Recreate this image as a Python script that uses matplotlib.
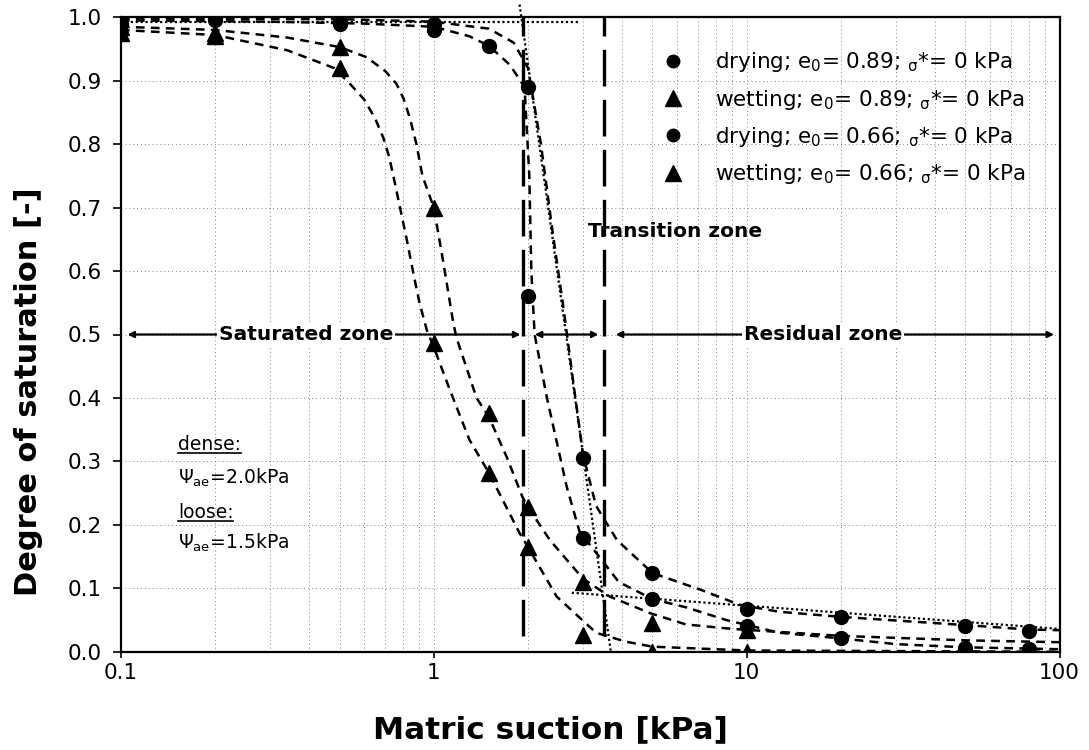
#!/usr/bin/env python3
"""
Soil-water retention curves (drying / wetting) for dense and loose sand,
with the saturated, transition and residual zones marked.
"""

import matplotlib
matplotlib.use("Agg")
import matplotlib.pyplot as plt
from matplotlib.lines import Line2D

plt.rcParams['font.family'] = ['DejaVu Sans']
plt.rcParams['mathtext.default'] = 'regular'

# --- measured points (matric suction kPa, degree of saturation) ---
suction_dry_089 = [0.1, 0.2, 0.5, 1, 1.5, 2, 3, 5, 10, 20, 50, 80]
sat_dry_089 = [0.99, 0.995, 0.99, 0.98, 0.955, 0.56, 0.18, 0.083, 0.04, 0.022, 0.006, 0.005]

suction_wet_089 = [0.1, 0.2, 0.5, 1, 1.5, 2, 3, 5, 10]
sat_wet_089 = [0.975, 0.97, 0.92, 0.487, 0.282, 0.165, 0.027, 0.0, 0.0]

suction_dry_066 = [0.1, 0.2, 0.5, 1, 2, 3, 5, 10, 20, 50, 80]
sat_dry_066 = [0.998, 1.0, 0.993, 0.99, 0.89, 0.305, 0.124, 0.068, 0.055, 0.041, 0.032]

suction_wet_066 = [0.1, 0.2, 0.5, 1, 1.5, 2, 3, 5, 10]
sat_wet_066 = [0.985, 0.975, 0.953, 0.70, 0.376, 0.228, 0.11, 0.045, 0.035]

# --- fitted curves ---
fit_dry_089_x = [0.1, 0.3, 0.6, 1.0, 1.3, 1.5, 1.75, 1.95, 2.02, 2.05, 2.1, 2.3, 2.66,
                 2.92, 3.5, 3.9, 5, 6.4, 8.6, 12.7, 20, 30, 50, 100]
fit_dry_089_y = [0.995, 0.993, 0.99, 0.985, 0.97, 0.955, 0.925, 0.89, 0.75, 0.6, 0.5, 0.4,
                 0.26, 0.19, 0.14, 0.11, 0.083, 0.07, 0.05, 0.03, 0.021, 0.012, 0.007, 0.004]

fit_wet_089_x = [0.1, 0.2, 0.34, 0.48, 0.54, 0.60, 0.65, 0.69, 0.72, 0.75, 0.78, 0.82, 0.86,
                 0.90, 0.95, 1.0, 1.125, 1.3, 1.5, 1.88, 2.0, 2.47, 3.3, 4.1, 5, 10, 100]
fit_wet_089_y = [0.98, 0.972, 0.948, 0.92, 0.895, 0.87, 0.84, 0.81, 0.78, 0.74, 0.70, 0.649,
                 0.597, 0.55, 0.507, 0.48, 0.413, 0.334, 0.282, 0.187, 0.165, 0.087, 0.03,
                 0.016, 0.008, 0.002, 0.0]

fit_dry_066_x = [0.1, 0.5, 1.0, 1.5, 1.8, 2.0, 2.2, 2.4, 2.6, 2.8, 3.0, 3.3, 3.85, 5, 7.1,
                 9.5, 12.7, 20, 50, 80, 100]
fit_dry_066_y = [0.998, 0.997, 0.993, 0.982, 0.96, 0.92, 0.80, 0.66, 0.54, 0.42, 0.31, 0.23,
                 0.176, 0.124, 0.098, 0.074, 0.063, 0.055, 0.042, 0.035, 0.034]

fit_wet_066_x = [0.1, 0.2, 0.34, 0.5, 0.61, 0.70, 0.76, 0.80, 0.84, 0.88, 0.92, 1.0, 1.07,
                 1.15, 1.18, 1.37, 1.5, 1.71, 1.92, 2.0, 2.35, 3.0, 3.65, 4.9, 6.4, 9, 20,
                 50, 100]
fit_wet_066_y = [0.985, 0.98, 0.968, 0.953, 0.937, 0.915, 0.895, 0.872, 0.84, 0.80, 0.75,
                 0.70, 0.617, 0.523, 0.496, 0.40, 0.37, 0.307, 0.244, 0.228, 0.176, 0.115,
                 0.087, 0.061, 0.043, 0.036, 0.025, 0.018, 0.015]

# --- bilinear construction lines ---
sat_line_x = [0.1, 2.9]
sat_line_y = [0.993, 0.993]
tangent_x = [1.88, 3.68]
tangent_y = [1.02, 0.0]
resid_line_x = [2.76, 100]
resid_line_y = [0.093, 0.036]

# zone boundaries (kPa)
aev_boundary = 1.93
res_boundary = 3.5

legend_labels = [
    r'drying; e$_0$= 0.89; $_\sigma$*= 0 kPa',
    r'wetting; e$_0$= 0.89; $_\sigma$*= 0 kPa',
    r'drying; e$_0$= 0.66; $_\sigma$*= 0 kPa',
    r'wetting; e$_0$= 0.66; $_\sigma$*= 0 kPa',
]


def zone_arrow(ax, x0, x1, y):
    ax.annotate('', xy=(x1, y), xytext=(x0, y),
                arrowprops=dict(arrowstyle='<|-|>', color='black', lw=1.6,
                                mutation_scale=9, shrinkA=0, shrinkB=0))


def main():
    fig = plt.figure(figsize=(10.89, 7.5), dpi=100)
    ax = fig.add_axes([0.111, 0.131, 0.862, 0.846])

    dash = (0, (3.5, 2.5))
    fit_kw = dict(color='black', lw=1.8, linestyle=dash, zorder=3)
    ax.plot(fit_dry_089_x, fit_dry_089_y, **fit_kw)
    ax.plot(fit_wet_089_x, fit_wet_089_y, **fit_kw)
    ax.plot(fit_dry_066_x, fit_dry_066_y, **fit_kw)
    ax.plot(fit_wet_066_x, fit_wet_066_y, **fit_kw)

    # construction lines
    dot_kw = dict(color='black', lw=1.6, linestyle=(0, (1, 1.2)), zorder=3)
    ax.plot(sat_line_x, sat_line_y, **dot_kw)
    ax.plot(tangent_x, tangent_y, clip_on=False, **dot_kw)
    ax.plot(resid_line_x, resid_line_y, **dot_kw)

    # zone boundaries
    for xb in (aev_boundary, res_boundary):
        ax.plot([xb, xb], [0.025, 1.0], color='black', lw=2.4,
                linestyle=(0, (11, 4)), zorder=3)

    # markers
    mk = dict(color='black', linestyle='none', zorder=5)
    ax.plot(suction_dry_089, sat_dry_089, marker='o', ms=10, **mk)
    ax.plot(suction_wet_089, sat_wet_089, marker='^', ms=12, **mk)
    ax.plot(suction_dry_066, sat_dry_066, marker='o', ms=10, **mk)
    ax.plot(suction_wet_066, sat_wet_066, marker='^', ms=12, **mk)

    # zones
    zone_arrow(ax, 0.105, aev_boundary * 0.98, 0.5)
    zone_arrow(ax, aev_boundary * 1.09, res_boundary * 0.96, 0.5)
    zone_arrow(ax, res_boundary * 1.09, 96, 0.5)
    box = dict(facecolor='white', edgecolor='none', pad=1.5)
    ax.text(0.39, 0.5, 'Saturated zone', ha='center', va='center',
            fontsize=14.5, fontweight='bold', bbox=box, zorder=6)
    ax.text(17.5, 0.5, 'Residual zone', ha='center', va='center',
            fontsize=14.5, fontweight='bold', bbox=box, zorder=6)
    ax.text(5.9, 0.662, 'Transition zone', ha='center', va='center',
            fontsize=14.5, fontweight='bold', zorder=6)

    # air-entry notes
    notes = [('dense:', 0.326, True), (r'$\Psi_{ae}$=2.0kPa', 0.274, False),
             ('loose:', 0.219, True), (r'$\Psi_{ae}$=1.5kPa', 0.172, False)]
    underline = []
    for txt, yy, ul in notes:
        t = ax.text(0.152, yy, txt, ha='left', va='center', fontsize=13.5)
        if ul:
            underline.append(t)

    # legend
    handles = [Line2D([], [], color='black', marker=m, linestyle='none', ms=s)
               for m, s in (('o', 9), ('^', 11), ('o', 9), ('^', 11))]
    ax.legend(handles, legend_labels, loc='upper left', bbox_to_anchor=(0.547, 0.975),
              frameon=False, fontsize=15.5, handletextpad=0.95, labelspacing=0.62,
              borderpad=0.3)

    # axes
    ax.set_xscale('log')
    ax.set_xlim(0.1, 100)
    ax.set_ylim(0.0, 1.0)
    ax.set_yticks([i / 10 for i in range(11)])
    ax.set_yticklabels([f'{i / 10:.1f}' for i in range(11)])
    ax.set_xticks([0.1, 1, 10, 100])
    ax.set_xticklabels(['0.1', '1', '10', '100'])
    ax.tick_params(axis='both', which='major', labelsize=15.5, width=1.2,
                   direction='out')
    ax.tick_params(axis='y', which='major', length=6, pad=8)
    ax.tick_params(axis='x', which='major', length=4, pad=4)
    ax.tick_params(axis='x', which='minor', length=0)
    ax.grid(True, which='both', color='0.5', lw=0.7, linestyle=(0, (1, 3)))
    for s in ax.spines.values():
        s.set_linewidth(1.6)
    ax.set_xlabel('Matric suction [kPa]', fontsize=22.5, fontweight='bold')
    ax.set_ylabel('Degree of saturation [-]', fontsize=22, fontweight='bold')
    ax.xaxis.set_label_coords(0.458, -0.1)
    ax.yaxis.set_label_coords(-0.083, 0.41)

    # underline 'dense:' and 'loose:'
    fig.canvas.draw()
    inv = fig.transFigure.inverted()
    for t in underline:
        bb = t.get_window_extent()
        (x0, y0), (x1, _) = inv.transform([(bb.x0, bb.y0), (bb.x1, bb.y0)])
        fig.add_artist(Line2D([x0, x1], [y0 + 0.002, y0 + 0.002], color='black', lw=1.2))

    fig.savefig('out.png', dpi=100)


if __name__ == "__main__":
    main()
